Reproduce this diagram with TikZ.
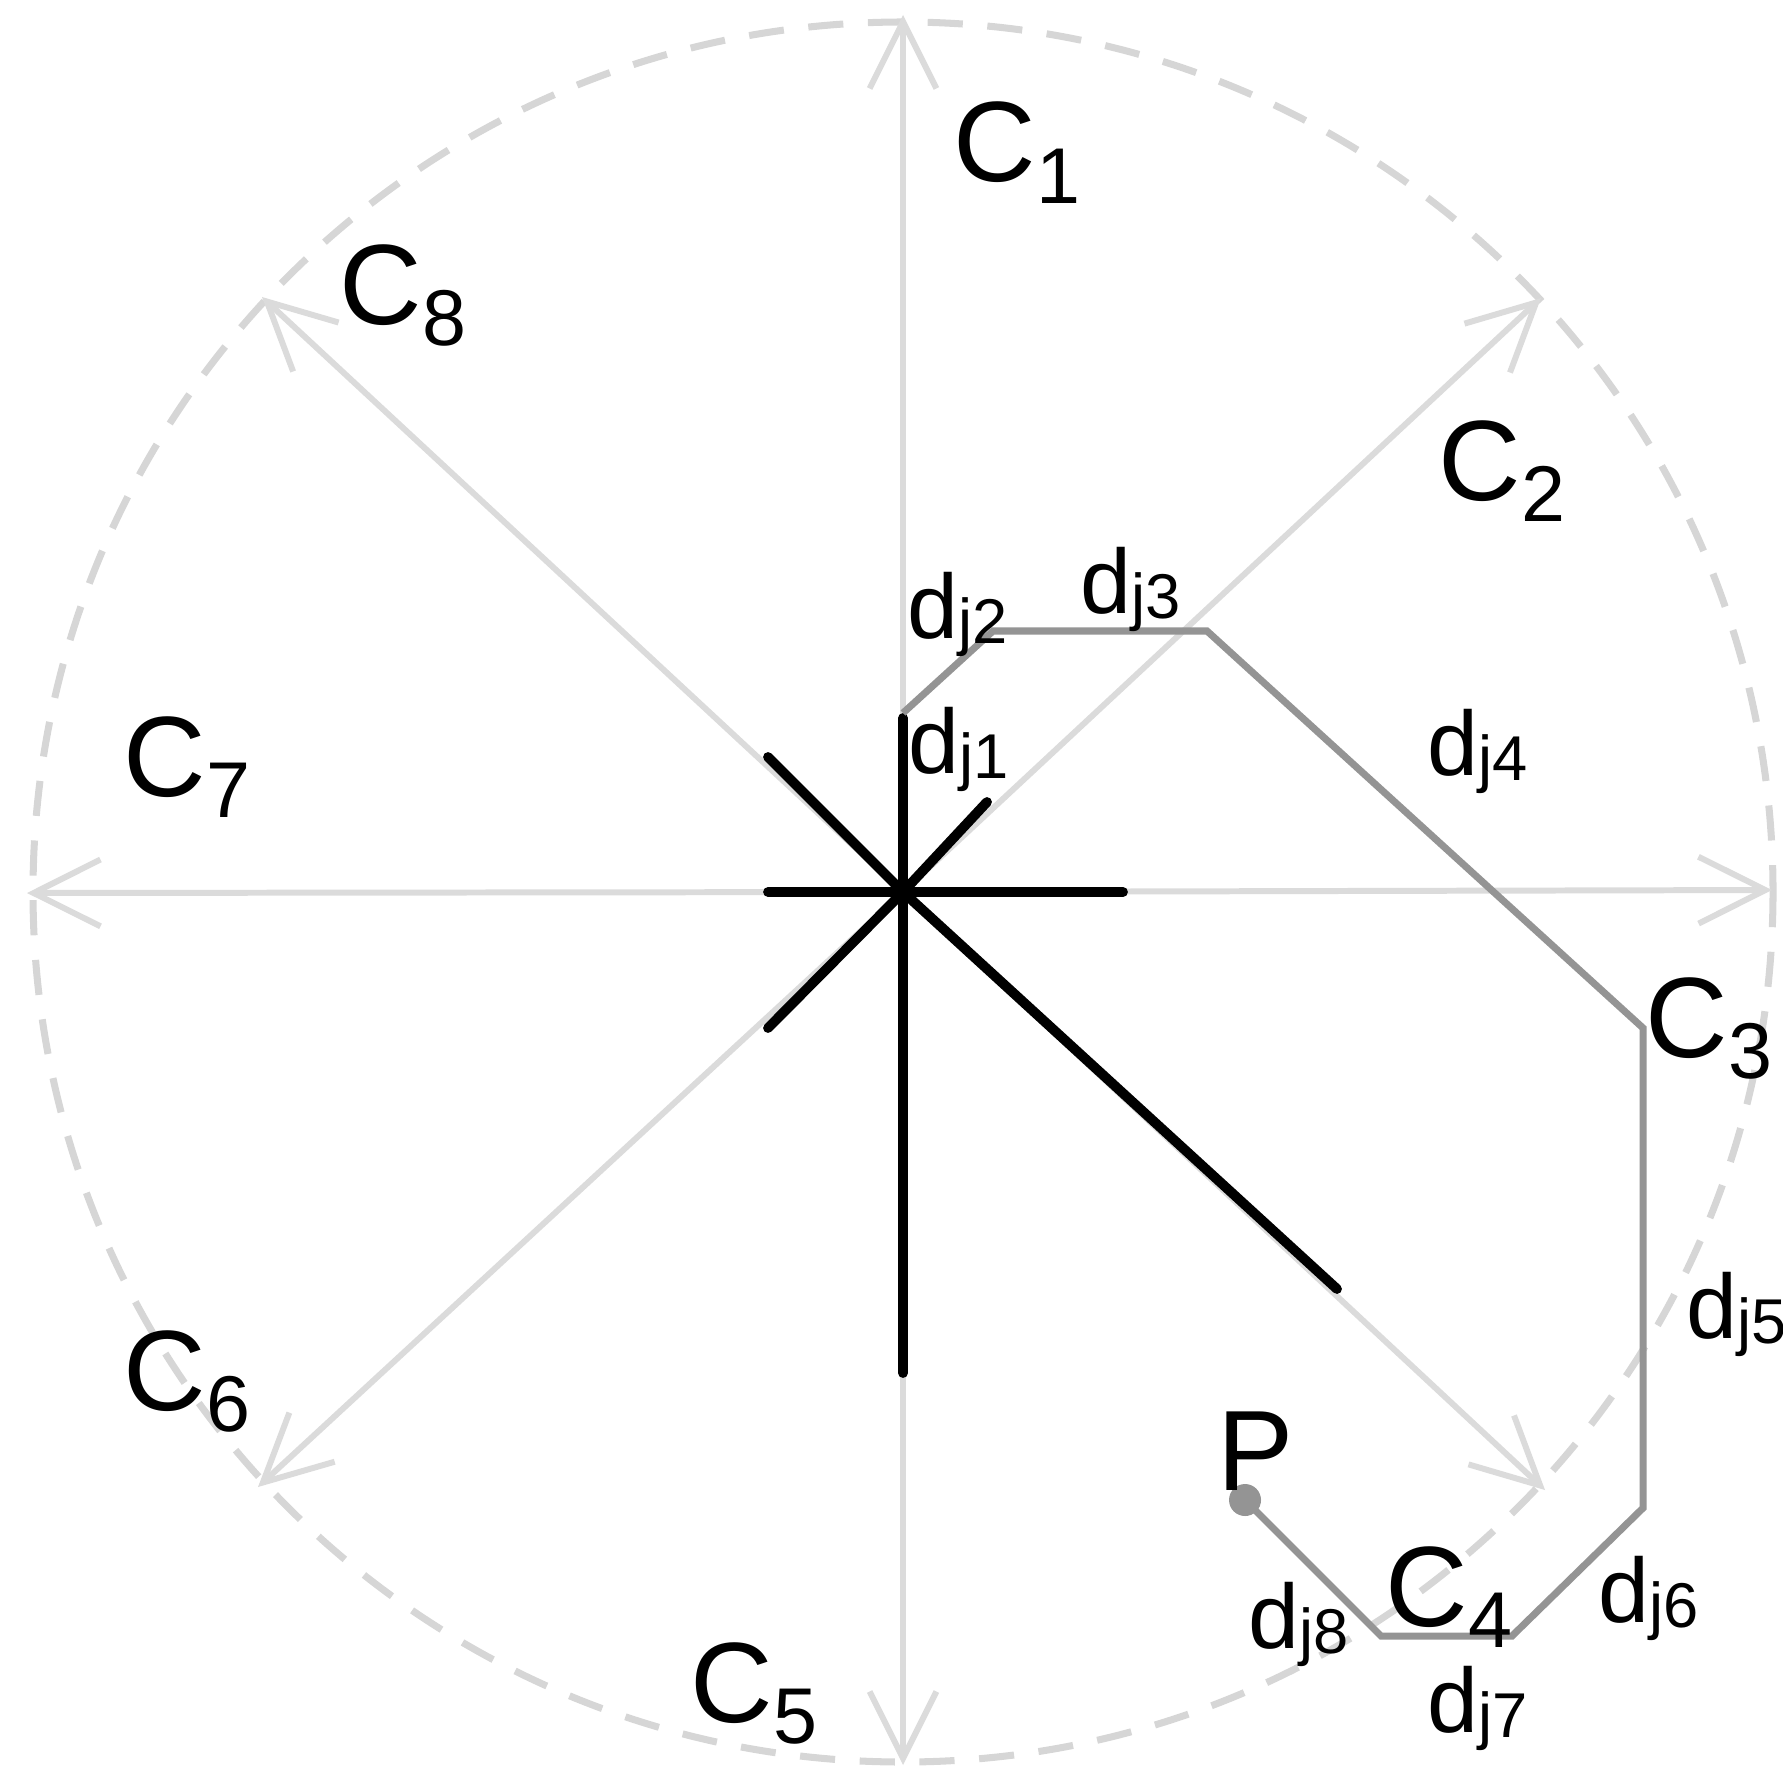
\documentclass[tikz,border=0pt]{standalone}
\usepackage{fontspec}
\setmainfont{Liberation Sans}
\usepackage{tikz}
\usetikzlibrary{arrows.meta}
\newcommand{\clab}[1]{C\raisebox{-6pt}{\fontsize{22.5}{24}\selectfont #1}}
\newcommand{\dlab}[1]{d\raisebox{-1.5pt}{\fontsize{18}{20}\selectfont j#1}}

\begin{document}
\begin{tikzpicture}[x=0.01cm, y=-0.01cm,
  axis/.style={draw=black!14, line width=1.7pt, -{Straight Barb[length=19pt, width=19pt, line width=1.7pt]}},
  ring/.style={draw=black!16, line width=2pt, dash pattern=on 10pt off 7pt},
  spoke/.style={draw=black, line width=2.8pt, line cap=round},
  chain/.style={draw=black!42, line width=2pt},
  clabel/.style={anchor=base west, inner sep=0pt, font=\fontsize{32.5}{35}\selectfont},
  dlabel/.style={anchor=base west, inner sep=0pt, font=\fontsize{26}{28}\selectfont}]
  \useasboundingbox (0,0) rectangle (1783,1773);

  \coordinate (O) at (903,892);
  \coordinate (c1) at (903,15);
  \coordinate (c2) at (1541,298);
  \coordinate (c3) at (1772,890);
  \coordinate (c4) at (1545,1490);
  \coordinate (c5) at (903,1765);
  \coordinate (c6) at (258,1487);
  \coordinate (c7) at (27,893);
  \coordinate (c8) at (262,297);

  \draw[ring] (O) circle[radius=870];
  \foreach \i in {1,...,8}
    \draw[axis] (O) -- (c\i);

  \coordinate (s1) at (903,718);
  \coordinate (s2) at (987,802);
  \coordinate (s3) at (1123,892);
  \coordinate (s4) at (1337,1289);
  \coordinate (s5) at (903,1373);
  \coordinate (s6) at (768,1028);
  \coordinate (s7) at (768,892);
  \coordinate (s8) at (768,757);
  \foreach \i in {1,...,8}
    \draw[spoke] (O) -- (s\i);

  \coordinate (p0) at (903,713);
  \coordinate (p1) at (993,631);
  \coordinate (p2) at (1207,631);
  \coordinate (p3) at (1643,1028);
  \coordinate (p4) at (1643,1508);
  \coordinate (p5) at (1512,1636);
  \coordinate (p6) at (1381,1636);
  \coordinate (P) at (1245,1500);
  \draw[chain] (p0) -- (p1) -- (p2) -- (p3) -- (p4) -- (p5) -- (p6) -- (P);
  \fill[black!42] (P) circle[radius=16];

  \node[clabel] (lc1) at (953,182) {\clab{1}};
  \node[clabel] (lc2) at (1438,500) {\clab{2}};
  \node[clabel] (lc3) at (1645,1057) {\clab{3}};
  \node[clabel] (lc4) at (1385,1626) {\clab{4}};
  \node[clabel] (lc5) at (690,1722) {\clab{5}};
  \node[clabel] (lc6) at (123,1410) {\clab{6}};
  \node[clabel] (lc7) at (123,796) {\clab{7}};
  \node[clabel] (lc8) at (339,324) {\clab{8}};
  \node[clabel] (lp) at (1217,1490) {P};

  \node[dlabel] (d1) at (908,773) {\dlab{1}};
  \node[dlabel] (d2) at (907,638) {\dlab{2}};
  \node[dlabel] (d3) at (1080,613) {\dlab{3}};
  \node[dlabel] (d4) at (1427,775) {\dlab{4}};
  \node[dlabel] (d5) at (1686,1338) {\dlab{5}};
  \node[dlabel] (d6) at (1598,1622) {\dlab{6}};
  \node[dlabel] (d7) at (1427,1732) {\dlab{7}};
  \node[dlabel] (d8) at (1248,1648) {\dlab{8}};
\end{tikzpicture}
\end{document}
